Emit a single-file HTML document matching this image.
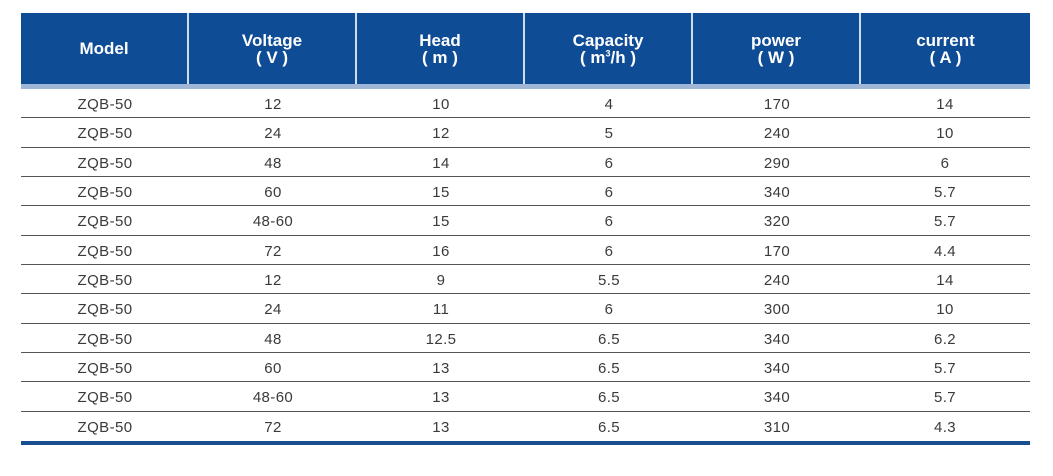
<!DOCTYPE html>
<html><head><meta charset="utf-8"><style>
body{margin:0;width:1053px;height:476px;background:#fff;position:relative;font-family:"Liberation Sans",Arial,sans-serif;overflow:hidden}
.hdr{position:absolute;left:21px;top:13px;width:1009px;height:71px;background:#0f4c96}
.strip{position:absolute;left:21px;top:84px;width:1009px;height:5px;background:#9fb6d6}
.hc{position:absolute;top:0;height:71px;width:168px;border-right:2px solid #cfdcef;box-sizing:border-box;color:#fff;font-weight:bold;font-size:17px;display:flex;flex-direction:column;justify-content:center;align-items:center;line-height:17px}
.hc:last-child{border-right:none}
.row{position:absolute;left:21px;width:1009px;height:29.33px;border-bottom:1.5px solid #555;box-sizing:border-box}
.c{position:absolute;top:0;width:168px;text-align:center;font-size:15px;color:#3a3a3a;line-height:32px;letter-spacing:0.4px}
.bot{position:absolute;left:21px;top:441px;width:1009px;height:4px;background:#1a4f8f}
</style></head><body>
<div class="hdr">
<div class="hc" style="left:0">Model</div>
<div class="hc" style="left:168px">Voltage<span>( V )</span></div>
<div class="hc" style="left:336px">Head<span>( m )</span></div>
<div class="hc" style="left:504px">Capacity<span>( m<sup style="font-size:9px;line-height:0">3</sup>/h )</span></div>
<div class="hc" style="left:672px">power<span>( W )</span></div>
<div class="hc" style="left:840px;width:169px">current<span>( A )</span></div>
</div>
<div class="strip"></div>
<div class="row" style="top:89px"><div class="c" style="left:0">ZQB-50</div><div class="c" style="left:168px">12</div><div class="c" style="left:336px">10</div><div class="c" style="left:504px">4</div><div class="c" style="left:672px">170</div><div class="c" style="left:840px">14</div></div>
<div class="row" style="top:118.33px"><div class="c" style="left:0">ZQB-50</div><div class="c" style="left:168px">24</div><div class="c" style="left:336px">12</div><div class="c" style="left:504px">5</div><div class="c" style="left:672px">240</div><div class="c" style="left:840px">10</div></div>
<div class="row" style="top:147.67px"><div class="c" style="left:0">ZQB-50</div><div class="c" style="left:168px">48</div><div class="c" style="left:336px">14</div><div class="c" style="left:504px">6</div><div class="c" style="left:672px">290</div><div class="c" style="left:840px">6</div></div>
<div class="row" style="top:177px"><div class="c" style="left:0">ZQB-50</div><div class="c" style="left:168px">60</div><div class="c" style="left:336px">15</div><div class="c" style="left:504px">6</div><div class="c" style="left:672px">340</div><div class="c" style="left:840px">5.7</div></div>
<div class="row" style="top:206.33px"><div class="c" style="left:0">ZQB-50</div><div class="c" style="left:168px">48-60</div><div class="c" style="left:336px">15</div><div class="c" style="left:504px">6</div><div class="c" style="left:672px">320</div><div class="c" style="left:840px">5.7</div></div>
<div class="row" style="top:235.67px"><div class="c" style="left:0">ZQB-50</div><div class="c" style="left:168px">72</div><div class="c" style="left:336px">16</div><div class="c" style="left:504px">6</div><div class="c" style="left:672px">170</div><div class="c" style="left:840px">4.4</div></div>
<div class="row" style="top:265px"><div class="c" style="left:0">ZQB-50</div><div class="c" style="left:168px">12</div><div class="c" style="left:336px">9</div><div class="c" style="left:504px">5.5</div><div class="c" style="left:672px">240</div><div class="c" style="left:840px">14</div></div>
<div class="row" style="top:294.33px"><div class="c" style="left:0">ZQB-50</div><div class="c" style="left:168px">24</div><div class="c" style="left:336px">11</div><div class="c" style="left:504px">6</div><div class="c" style="left:672px">300</div><div class="c" style="left:840px">10</div></div>
<div class="row" style="top:323.67px"><div class="c" style="left:0">ZQB-50</div><div class="c" style="left:168px">48</div><div class="c" style="left:336px">12.5</div><div class="c" style="left:504px">6.5</div><div class="c" style="left:672px">340</div><div class="c" style="left:840px">6.2</div></div>
<div class="row" style="top:353px"><div class="c" style="left:0">ZQB-50</div><div class="c" style="left:168px">60</div><div class="c" style="left:336px">13</div><div class="c" style="left:504px">6.5</div><div class="c" style="left:672px">340</div><div class="c" style="left:840px">5.7</div></div>
<div class="row" style="top:382.33px"><div class="c" style="left:0">ZQB-50</div><div class="c" style="left:168px">48-60</div><div class="c" style="left:336px">13</div><div class="c" style="left:504px">6.5</div><div class="c" style="left:672px">340</div><div class="c" style="left:840px">5.7</div></div>
<div class="row" style="top:411.67px;border-bottom:none"><div class="c" style="left:0">ZQB-50</div><div class="c" style="left:168px">72</div><div class="c" style="left:336px">13</div><div class="c" style="left:504px">6.5</div><div class="c" style="left:672px">310</div><div class="c" style="left:840px">4.3</div></div>
<div class="bot"></div>
</body></html>
